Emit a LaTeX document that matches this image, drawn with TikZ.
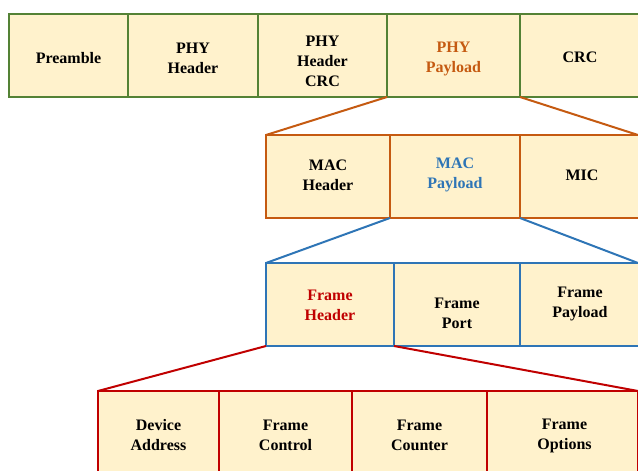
\documentclass[tikz,border=0pt]{standalone}
\usepackage{fontspec}
\setmainfont{Liberation Serif}
\usepackage{tikz}

\definecolor{cellfill}{HTML}{FFF2CC}
\definecolor{phygreen}{HTML}{548235}
\definecolor{macorange}{HTML}{C55A11}
\definecolor{frmblue}{HTML}{2E75B6}
\definecolor{hdrred}{HTML}{C00000}

\tikzset{
    cell/.style={draw, fill=cellfill, line width=2pt, anchor=north west, outer sep=0pt,
        minimum height=83pt},
    lbl/.style={inner sep=0pt, align=center, font=\fontsize{16}{20}\selectfont\bfseries},
    fan/.style={line width=2pt},
}

\begin{document}
\begin{tikzpicture}[x=1pt, y=-1pt]
    \useasboundingbox (0, 0) rectangle (638, 471);
    \clip (0, 0) rectangle (638, 471);

    % PHY layer
    \node[cell, draw=phygreen, minimum width=119pt] (pre) at (9, 14) {};
    \node[cell, draw=phygreen, minimum width=130pt] (phdr) at (128, 14) {};
    \node[cell, draw=phygreen, minimum width=129pt] (pcrc) at (258, 14) {};
    \node[cell, draw=phygreen, minimum width=133pt] (ppay) at (387, 14) {};
    \node[cell, draw=phygreen, minimum width=130pt] (crc) at (520, 14) {};
    \node[lbl] (preT) at ([yshift=-3pt]pre.center) {Preamble};
    \node[lbl] (phdrT) at ([yshift=-3pt]phdr.center) {PHY\\Header};
    \node[lbl] (pcrcT) at ([yshift=-6pt]pcrc.center) {PHY\\Header\\CRC};
    \node[lbl, text=macorange] (ppayT) at ([yshift=-3pt]ppay.center) {PHY\\Payload};
    \node[lbl] (crcT) at ([xshift=-5pt, yshift=-2pt]crc.center) {CRC};

    % MAC layer
    \node[cell, draw=macorange, minimum width=124pt] (mhdr) at (266, 135) {};
    \node[cell, draw=macorange, minimum width=130pt] (mpay) at (390, 135) {};
    \node[cell, draw=macorange, minimum width=130pt] (mic) at (520, 135) {};
    \node[lbl] (mhdrT) at ([yshift=1.5pt]mhdr.center) {MAC\\Header};
    \node[lbl, text=frmblue] (mpayT) at ([yshift=1.5pt]mpay.center) {MAC\\Payload};
    \node[lbl] (micT) at ([xshift=-3pt, yshift=1.5pt]mic.center) {MIC};
    \draw[fan, macorange] (ppay.south west) -- (mhdr.north west);
    \draw[fan, macorange] (ppay.south east) -- (638, 135);

    % frame layer
    \node[cell, draw=frmblue, minimum width=128pt] (fhdr) at (266, 263) {};
    \node[cell, draw=frmblue, minimum width=126pt] (fport) at (394, 263) {};
    \node[cell, draw=frmblue, minimum width=130pt] (fpay) at (520, 263) {};
    \node[lbl, text=hdrred] (fhdrT) at ([yshift=-1pt]fhdr.center) {Frame\\Header};
    \node[lbl] (fportT) at ([yshift=-9pt]fport.center) {Frame\\Port};
    \node[lbl] (fpayT) at ([xshift=-5pt, yshift=1pt]fpay.center) {Frame\\Payload};
    \draw[fan, frmblue] (mpay.south west) -- (fhdr.north west);
    \draw[fan, frmblue] (mpay.south east) -- (638, 263);

    % frame header fields
    \node[cell, draw=hdrred, minimum width=121pt] (dev) at (98, 391) {};
    \node[cell, draw=hdrred, minimum width=133pt] (fctl) at (219, 391) {};
    \node[cell, draw=hdrred, minimum width=135pt] (fcnt) at (352, 391) {};
    \node[cell, draw=hdrred, minimum width=151pt] (fopt) at (487, 391) {};
    \node[lbl] (devT) at ([yshift=-3pt]dev.center) {Device\\Address};
    \node[lbl] (fctlT) at ([yshift=-3pt]fctl.center) {Frame\\Control};
    \node[lbl] (fcntT) at ([yshift=-3pt]fcnt.center) {Frame\\Counter};
    \node[lbl] (foptT) at ([xshift=2pt, yshift=-3pt]fopt.center) {Frame\\Options};
    \draw[fan, hdrred] (fhdr.south west) -- (dev.north west);
    \draw[fan, hdrred] (fhdr.south east) -- (638, 391);
\end{tikzpicture}
\end{document}
